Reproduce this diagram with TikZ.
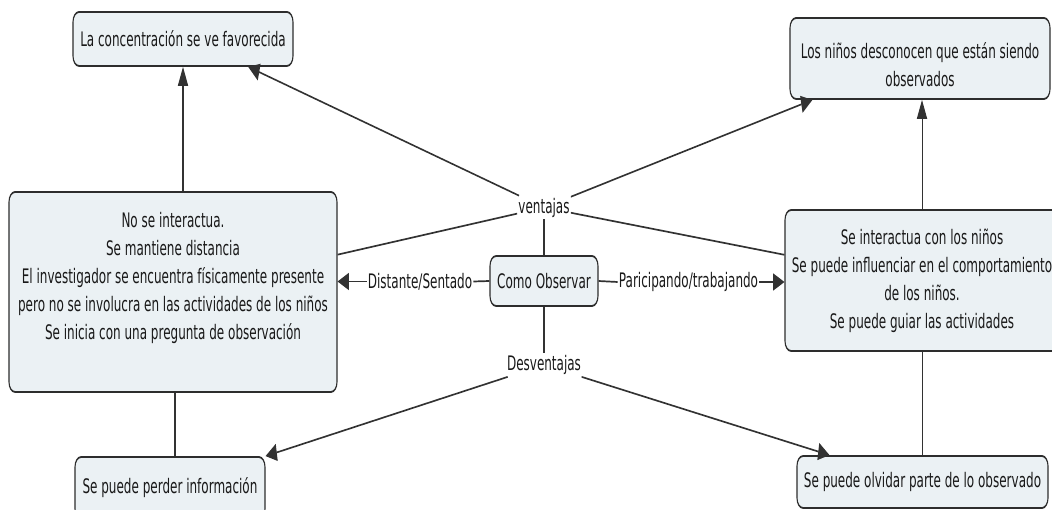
\documentclass[tikz,border=0pt]{standalone}
\usepackage{fontspec}
\setmainfont{DejaVu Sans}
\usetikzlibrary{arrows.meta,calc}
\definecolor{boxfill}{RGB}{235,241,244}
\definecolor{boxline}{RGB}{45,45,45}
\definecolor{linkline}{RGB}{50,50,50}
\definecolor{txt}{RGB}{25,25,25}
\begin{document}
\begin{tikzpicture}[x=1pt,y=-1pt]
\useasboundingbox (0,0) rectangle (1052,510);
\clip (0,0) rectangle (1052,510);
\begin{scope}[transform canvas={xscale=0.6}, x=1.666667pt, y=-1pt,
  concept/.style={draw=boxline, line width=1.8pt, fill=boxfill, rounded corners=10pt, align=center, font=\fontsize{20}{28}\selectfont, text=txt, inner sep=0pt},
  plaintext/.style={align=center, font=\fontsize{20}{28}\selectfont, text=txt, inner sep=0pt},
  linklabel/.style={font=\fontsize{20}{28}\selectfont, text=txt, inner sep=2pt},
  conn/.style={draw=linkline, line width=1.7pt},
  arr/.style={conn, -{Triangle[length=19pt,width=17pt]}},
]
% concepts
\node[concept, minimum width=366.67pt, minimum height=54pt] (conc) at (183,39) {La concentración se ve favorecida};
\node[concept, minimum width=433.33pt, minimum height=81pt] (ninos) at (920,58.5) {};
\node[plaintext] (ninost) at (920,65) {Los niños desconocen que están siendo\\observados};
\node[concept, minimum width=546.67pt, minimum height=200pt] (lb) at (173,292) {};
\node[plaintext] (lbt) at (173,278) {No se interactua.\\Se mantiene distancia\\El investigador se encuentra físicamente presente\\pero no se involucra en las actividades de los niños\\Se inicia con una pregunta de observación};
\node[concept, minimum width=180pt, minimum height=50pt] (como) at (544,281) {Como Observar};
\node[concept, minimum width=456.67pt, minimum height=141pt] (rb) at (922,280.5) {Se interactua con los niños\\Se puede influenciar en el comportamiento\\de los niños.\\Se puede guiar las actividades};
\node[concept, minimum width=316.67pt, minimum height=62pt] (perder) at (170,488) {Se puede perder información};
\node[concept, minimum width=418.33pt, minimum height=52pt] (olv) at (922.5,482) {Se puede olvidar parte de lo observado};
% linking phrases
\node[linklabel] (v) at (544,207.5) {ventajas};
\node[linklabel] (des) at (544,365) {Desventajas};
\node[linklabel] (dist) at (420,281.5) {Distante/Sentado};
\node[linklabel] (par) at (688.5,282) {Paricipando/trabajando};
\coordinate (lbs) at ($(lb.south)+(2,0)$);
% connectors
\draw[arr] (v) -- ($(conc.south west)!0.795!(conc.south east)$);
\draw[arr] (v) -- ($(ninos.south west)!0.088!(ninos.south east)$);
\draw[conn] ($(lb.north east)!0.315!(lb.south east)$) -- (v);
\draw[conn] ($(rb.north west)!0.32!(rb.south west)$) -- (v);
\draw[conn] (como.north) -- (v.south);
\draw[conn] (como.south) -- (des.north);
\draw[arr] (des) -- (perder.north east);
\draw[arr] (des) -- ($(olv.north west)!0.131!(olv.north east)$);
\draw[conn] (como.west) -- (dist.east);
\draw[arr] (dist.west) -- (dist.west -| lb.east);
\draw[conn] (como.east) -- (par.west);
\draw[arr] (par.east) -- (par.east -| rb.west);
\draw[arr] (lb.north -| conc.south) -- (conc.south);
\draw[arr] (rb.north) -- (rb.north |- ninos.south);
\draw[conn] (lbs) -- (lbs |- perder.north);
\draw[conn] (rb.south) -- (rb.south |- olv.north);
\end{scope}
\end{tikzpicture}
\end{document}
